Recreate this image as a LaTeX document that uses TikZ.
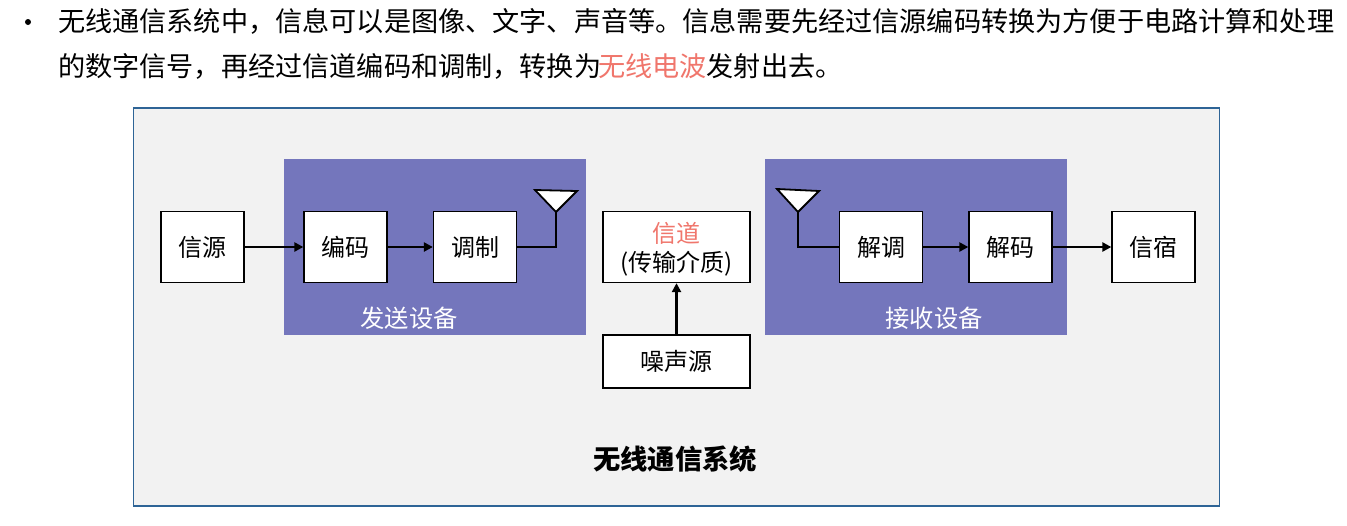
\documentclass[tikz,border=0pt]{standalone}
\usepackage{fontspec}
\setmainfont{Noto Sans CJK SC}
\usetikzlibrary{arrows.meta}
\definecolor{panelbg}{HTML}{F2F2F2}
\definecolor{panelline}{HTML}{2E6496}
\definecolor{groupbg}{HTML}{7476BC}
\definecolor{accent}{HTML}{F0766C}
\newcommand{\fsz}[1]{\fontsize{#1pt}{#1pt}\selectfont}
\newcommand{\chanfont}{\fontsize{24pt}{29pt}\selectfont}
\tikzset{
  x=1pt,y=-1pt,
  blockbox/.style={draw=black,fill=white,line width=1.3pt,inner sep=0pt,font=\fsz{24}},
  grouppanel/.style={fill=groupbg,draw=none,inner sep=0pt},
  conn/.style={line width=2.6pt,draw=black,-{Triangle[length=9pt,width=9pt]}},
  wire/.style={line width=2.6pt,draw=black,line join=miter},
  antenna/.style={draw=black,fill=white,line width=1.8pt,line join=miter},
  textline/.style={anchor=west,inner sep=0pt,font=\fsz{27.15}},
  grouplabel/.style={text=white,inner sep=0pt,font=\fsz{24.3}},
}
\begin{document}
\begin{tikzpicture}
\useasboundingbox (0,0) rectangle (1347,525);
\fill[white] (0,0) rectangle (1347,525);
% heading text
\node[circle,fill=black,inner sep=0pt,minimum size=6pt] (bullet) at (28,22) {};
\node[textline] (line1) at (58,21) {无线通信系统中，信息可以是图像、文字、声音等。信息需要先经过信源编码转换为方便于电路计算和处理};
\node[textline] (line2) at (58,66) {的数字信号，再经过信道编码和调制，转换为\hspace{-3pt}\textcolor{accent}{无线电波}发射出去。};
% panel
\node[draw=panelline,fill=panelbg,line width=1.3pt,minimum width=1086pt,minimum height=398pt,inner sep=0pt] (panel) at (676.5,307) {};
\node[grouppanel,minimum width=302pt,minimum height=176pt] (txgroup) at (435,247) {};
\node[grouppanel,minimum width=302pt,minimum height=176pt] (rxgroup) at (916,247) {};
\node[grouplabel] (txlabel) at (409,318) {发送设备};
\node[grouplabel] (rxlabel) at (934,318) {接收设备};
% blocks
\node[blockbox,minimum width=83pt,minimum height=71pt] (src) at (202.5,247) {信源};
\node[blockbox,minimum width=83pt,minimum height=71pt] (enc) at (345.5,247) {编码};
\node[blockbox,minimum width=83pt,minimum height=71pt] (mod) at (475,247) {调制};
\node[blockbox,minimum width=83pt,minimum height=71pt] (dem) at (881,247) {解调};
\node[blockbox,minimum width=83pt,minimum height=71pt] (dec) at (1010.5,247) {解码};
\node[blockbox,minimum width=83pt,minimum height=71pt] (snk) at (1153.5,247) {信宿};
\node[blockbox,minimum width=147pt,minimum height=71pt,align=center,font=\chanfont] (chan) at (676.5,247) {\raisebox{0pt}[19pt][0pt]{\textcolor{accent}{信道}}\\\raisebox{0pt}[0pt][0pt]{(传输介质)}};
\node[blockbox,minimum width=147pt,minimum height=53pt] (noise) at (676.5,361.5) {噪声源};
% antennas
\coordinate (txtip) at (556,212);
\coordinate (rxtip) at (798,212);
\draw[antenna] (535,190) -- (577,191) -- (txtip) -- cycle;
\draw[antenna] (777,189) -- (819,191) -- (rxtip) -- cycle;
% connectors
\draw[conn] (src) -- (enc);
\draw[conn] (enc) -- (mod);
\draw[wire] (mod) -| (txtip);
\draw[wire] (rxtip) |- (dem);
\draw[conn] (dem) -- (dec);
\draw[conn] (dec) -- (snk);
\draw[conn] (noise) -- (chan);
% title
\node[inner sep=0pt,font=\fsz{27.3}\bfseries] (title) at (675,459) {无线通信系统};
\end{tikzpicture}
\end{document}
